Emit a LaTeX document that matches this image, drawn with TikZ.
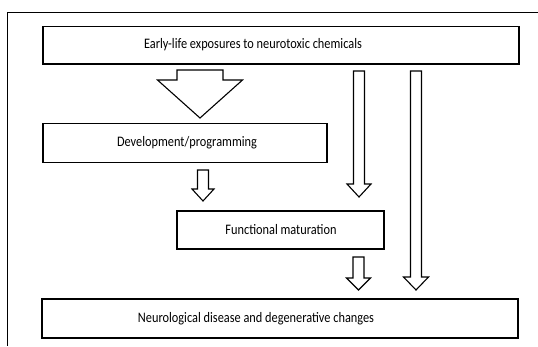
\documentclass[tikz,border=0pt]{standalone}
\usepackage{fontspec}
\setmainfont{Carlito}[FakeStretch=0.85]
\usetikzlibrary{calc}

% hollow block arrow from #1 (tail) to #2 (tip): shaft half-width, head half-width, head length
\newcommand{\blockarrow}[5]{%
  \draw[arrowline] ($(#1)+(-#3,0)$) -- ($(#2)+(-#3,#5)$) -- ($(#2)+(-#4,#5)$) -- (#2)
    -- ($(#2)+(#4,#5)$) -- ($(#2)+(#3,#5)$) -- ($(#1)+(#3,0)$) -- cycle;}

\begin{document}
\begin{tikzpicture}[x=1pt,y=1pt,
    box/.style={draw, line width=1.1pt, inner sep=0pt},
    arrowline/.style={draw, line width=1.1pt, line join=miter, fill=white},
    every node/.style={font=\fontsize{14.5}{17}\selectfont}]

      \useasboundingbox (0,0) rectangle (538,346);
      \draw[line width=0.8pt] (538,334) -- (7,334) -- (7,0);

      \begin{scope}
        \node[box, minimum width=476, minimum height=37.5] (expo) at (281,300.75) {};
        \node[box, minimum width=284, minimum height=39]   (dev)  at (185,203) {};
        \node[box, minimum width=207, minimum height=38]   (func) at (280.5,116) {};
        \node[box, minimum width=476, minimum height=39]   (dis)  at (280,27.5) {};
      \end{scope}

      \node (expotxt) at (253,301)  {Early-life exposures to neurotoxic chemicals};
      \node (devtxt)  at (187,203)  {Development/programming};
      \node (functxt) at (281,116)  {Functional maturation};
      \node (distxt)  at (256,27.5) {Neurological disease and degenerative changes};

      % tails and tips of the block arrows
      \coordinate (bigtail)   at (200,276);   \coordinate (bigtip)   at (200,228);
      \coordinate (devtail)   at (203,176);   \coordinate (devtip)   at (203,145);
      \coordinate (midtail)   at (359,275);   \coordinate (midtip)   at (359,149);
      \coordinate (functail)  at (358.5,89);  \coordinate (functip)  at (358.5,56);
      \coordinate (fartail)   at (416,275);   \coordinate (fartip)   at (416,56);

      \blockarrow{bigtail}{bigtip}{23}{42.5}{38}
      \blockarrow{devtail}{devtip}{5.5}{11}{12}
      \blockarrow{midtail}{midtip}{5.5}{12}{13}
      \blockarrow{functail}{functip}{5.5}{12}{12}
      \blockarrow{fartail}{fartip}{5.5}{12.5}{13}

    \end{tikzpicture}
\end{document}
